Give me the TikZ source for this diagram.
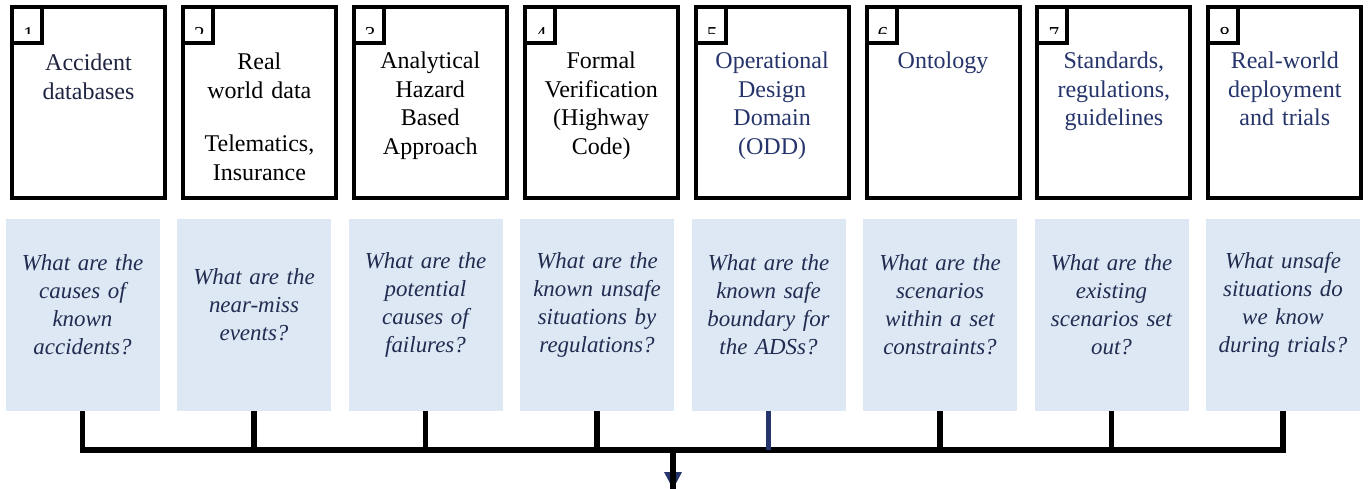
\documentclass[tikz,border=0pt]{standalone}
\usepackage{fontspec}
\setmainfont{Liberation Serif}
\usetikzlibrary{arrows.meta,calc}
\definecolor{qblue}{HTML}{DEE8F4}
\definecolor{navy}{HTML}{25346A}
\definecolor{qtextcol}{HTML}{222B50}
\definecolor{darknavy}{HTML}{1F2540}
\begin{document}
\begin{tikzpicture}[x=0.75pt,y=-0.75pt,
  topbox/.style={draw, line width=3pt, minimum width=114.75pt, minimum height=143.25pt, inner sep=0pt},
  numbox/.style={draw, line width=3pt, minimum width=22.5pt, minimum height=27pt, inner sep=0pt, anchor=north west},
  digit/.style={inner sep=0pt, anchor=base, font=\fontsize{16}{20}\selectfont},
  qbox/.style={fill=qblue, minimum width=115.5pt, minimum height=144pt, inner sep=0pt},
  toptext/.style={text width=114pt, align=center, anchor=base, inner sep=0pt, font=\fontsize{18}{21.75}\selectfont},
  qtext/.style={text width=114pt, align=center, anchor=center, inner sep=0pt, text=qtextcol, font=\fontsize{17.2}{21}\selectfont\itshape},
  wire/.style={line width=4.2pt, draw=black}]
\useasboundingbox (0,0) rectangle (1368,489);
\foreach \i in {1,...,8}{
  \pgfmathsetmacro\tx{88.5+170.9*(\i-1)}
  \pgfmathsetmacro\qx{82.5+171.5*(\i-1)}
  \node[topbox] (t\i) at (\tx,102.5) {};
  \node[numbox] (n\i) at (t\i.north west) {};
  \begin{scope}
    \clip (\tx-78.5,5) rectangle (\tx-44.5,33.5);
    \node[digit] (d\i) at (\tx-60,41.5) {\i};
  \end{scope}
  \node[qbox] (q\i) at (\qx,315) {};
}
% top texts
\path (t1.north) ++(0,65) node[toptext, text=darknavy] (a1) {Accident\\databases};
\path (t2.north) ++(0,64) node[toptext] (a2) {Real\\world data\\[18.75pt]Telematics,\\Insurance};
\path (t3.north) ++(0,63) node[toptext] (a3) {Analytical\\Hazard\\Based\\Approach};
\path (t4.north) ++(0,63) node[toptext] (a4) {Formal\\Verification\\(Highway\\Code)};
\path (t5.north) ++(0,63) node[toptext, text=navy] (a5) {Operational\\Design\\Domain\\(ODD)};
\path (t6.north) ++(0,63) node[toptext, text=navy] (a6) {Ontology};
\path (t7.north) ++(0,63) node[toptext, text=navy] (a7) {Standards,\\regulations,\\guidelines};
\path (t8.north) ++(0,63) node[toptext, text=navy] (a8) {Real-world\\deployment\\and trials};
% question texts
\path (q1.center) ++(0,-10) node[qtext] (p1) {What are the\\causes of\\known\\accidents?};
\path (q2.center) ++(0,-10) node[qtext] (p2) {What are the\\near-miss\\events?};
\path (q3.center) ++(0,-10) node[qtext] (p3) {What are the\\potential\\causes of\\failures?};
\path (q4.center) ++(0,-10) node[qtext] (p4) {What are the\\known unsafe\\situations by\\regulations?};
\path (q5.center) ++(0,-10) node[qtext] (p5) {What are the\\known safe\\boundary for\\the ADSs?};
\path (q6.center) ++(0,-10) node[qtext] (p6) {What are the\\scenarios\\within a set\\constraints?};
\path (q7.center) ++(0,-10) node[qtext] (p7) {What are the\\existing\\scenarios set\\out?};
\path (q8.center) ++(0,-10) node[qtext] (p8) {What unsafe\\situations do\\we know\\during trials?};
% connectors
\coordinate (hub) at (673,450);
\coordinate (out) at (673,489);
\draw[wire] (q1.south) -- (q1.south |- hub) -- (q8.south |- hub) -- (q8.south);
\foreach \i in {2,3,4,6,7}{
  \draw[wire] (q\i.south) -- (q\i.south |- hub);
}
\draw[wire, draw=navy] (q5.south) -- (q5.south |- hub);
\fill[navy] (out) -- ++(-9,-17) -- ++(18,0) -- cycle;
\draw[wire] (hub) -- (out);
\end{tikzpicture}
\end{document}
